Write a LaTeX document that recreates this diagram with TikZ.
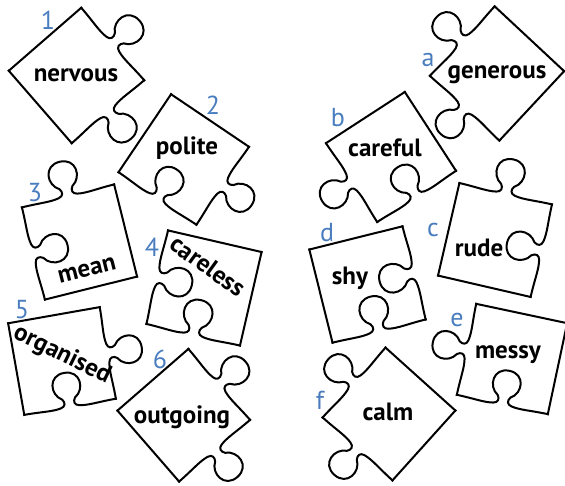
\documentclass[tikz,border=0pt]{standalone}
\usepackage{fontspec}
\setmainfont{PT Sans}
\definecolor{tagblue}{RGB}{74,125,190}

% one side of a piece, drawn along (0,0)--(1,0); the knob points to +y
\newcommand\knob{(0,0) .. controls (0.2,0) and (0.3,-0.02) .. (0.40,0)
  .. controls (0.45,0.01) and (0.46,0.05) .. (0.43,0.09)
  .. controls (0.31,0.16) and (0.32,0.37) .. (0.5,0.37)
  .. controls (0.68,0.37) and (0.69,0.16) .. (0.57,0.09)
  .. controls (0.54,0.05) and (0.55,0.01) .. (0.60,0)
  .. controls (0.7,-0.02) and (0.8,0) .. (1,0)}

% #1 rotation of the side, #2 kind: f flat, t tab, b blank
\newcommand\jside[2]{%
  \if#2f\draw[outline,rotate=#1,shift={(-0.5,0.5)}] (0,0) -- (1,0);\fi
  \if#2t\draw[outline,rotate=#1,shift={(-0.5,0.5)}] \knob;\fi
  \if#2b\draw[outline,rotate=#1,shift={(-0.5,0.5)},yscale=-1] \knob;\fi}

% centre x, centre y, angle, side length, then top/right/bottom/left kinds
\newcommand\jpiece[8]{%
  \begin{scope}[shift={(#1,#2)},rotate=#3,scale=#4]
    \jside{0}{#5}\jside{-90}{#6}\jside{-180}{#7}\jside{-270}{#8}
  \end{scope}}

\begin{document}
\begin{tikzpicture}[x=1pt,y=1pt,
  outline/.style={line width=2pt,line cap=rect,line join=miter},
  word/.style={font=\bfseries\fontsize{25}{25}\selectfont,inner sep=0pt},
  tag/.style={text=tagblue,font=\fontsize{26}{26}\selectfont,inner sep=0pt}]
\useasboundingbox (0,0) rectangle (565,486);

% left column
\jpiece{76.5}{410.5}{41}{96}{f}{t}{t}{f}
\jpiece{183.75}{326.5}{-34}{94}{f}{t}{b}{f}
\jpiece{79.5}{244}{14}{95}{t}{f}{f}{b}
\jpiece{204}{198}{-13}{96}{f}{f}{b}{b}
\jpiece{62}{125}{10}{93}{f}{t}{b}{f}
\jpiece{183.75}{70.75}{41}{94}{f}{t}{t}{f}

% right column
\jpiece{497}{412.5}{-43}{95}{f}{f}{t}{t}
\jpiece{391}{329}{33}{94}{f}{f}{b}{t}
\jpiece{495}{246}{-13}{95}{t}{b}{f}{f}
\jpiece{367.5}{201.5}{14}{96}{f}{b}{b}{f}
\jpiece{512}{127}{-12}{93}{f}{f}{b}{t}
\jpiece{389}{72}{-42}{94}{f}{f}{t}{t}

% words
\node[word] (wnervous) at (76,411) {nervous};
\node[word] (wpolite) at (187,338) {polite};
\node[word,rotate=14] (wmean) at (87,216) {mean};
\node[word,rotate=-36] (wcareless) at (208,220) {careless};
\node[word,rotate=-26] (worganised) at (62,131) {organised};
\node[word] (woutgoing) at (182,69) {outgoing};
\node[word] (wgenerous) at (497,411) {generous};
\node[word] (wcareful) at (385,338) {careful};
\node[word] (wrude) at (479,238) {rude};
\node[word] (wshy) at (350,208) {shy};
\node[word] (wmessy) at (508,131) {messy};
\node[word] (wcalm) at (388,74) {calm};

% labels
\node[tag] (t1) at (48,466) {1};
\node[tag] (t2) at (213,381) {2};
\node[tag] (t3) at (35,293) {3};
\node[tag] (t4) at (152,239) {4};
\node[tag] (t5) at (22,176) {5};
\node[tag] (t6) at (160,127) {6};
\node[tag] (ta) at (428,426) {a};
\node[tag] (tb) at (338,368) {b};
\node[tag] (tc) at (433,256) {c};
\node[tag] (td) at (327,253) {d};
\node[tag] (te) at (457,166) {e};
\node[tag] (tf) at (320,86) {f};
\end{tikzpicture}
\end{document}
